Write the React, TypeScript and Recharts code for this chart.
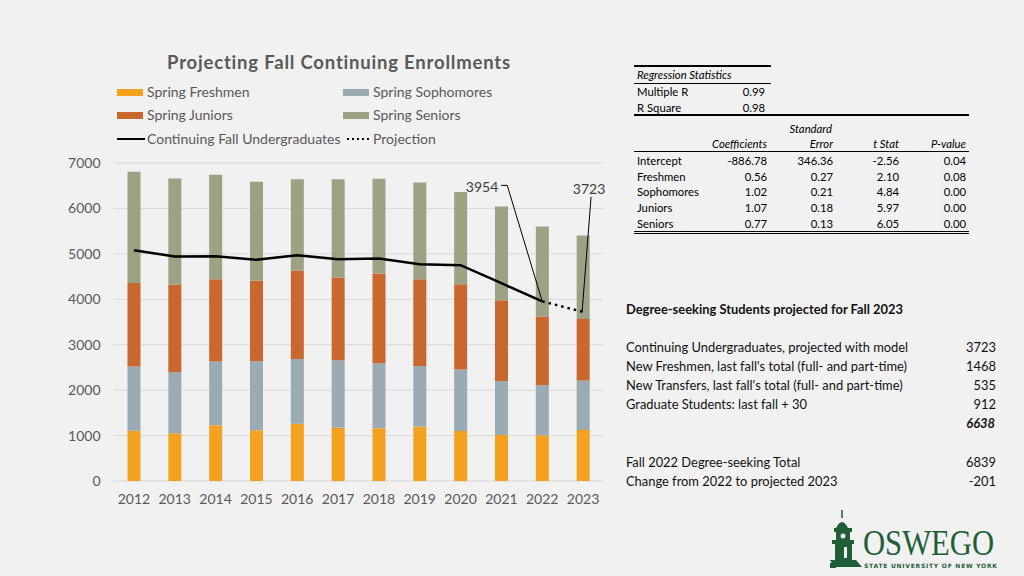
import React from "react"
import { ComposedChart, Bar, Line, XAxis, YAxis, CartesianGrid } from "recharts"

const years = ["2012", "2013", "2014", "2015", "2016", "2017", "2018", "2019", "2020", "2021", "2022", "2023"]
const freshmen = [1108, 1050, 1227, 1116, 1262, 1174, 1160, 1196, 1101, 1013, 1006, 1123]
const sophomores = [1410, 1351, 1401, 1521, 1425, 1484, 1432, 1337, 1351, 1190, 1102, 1086]
const juniors = [1843, 1923, 1815, 1775, 1945, 1820, 1974, 1910, 1880, 1777, 1511, 1359]
const seniors = [2445, 2335, 2297, 2174, 2013, 2167, 2086, 2128, 2027, 2062, 1983, 1835]
const continuing = [5081, 4941, 4949, 4868, 4971, 4883, 4897, 4773, 4751, 4354, 3954, null]
const projection = [null, null, null, null, null, null, null, null, null, null, 3954, 3723]
const yTicks = [0, 1000, 2000, 3000, 4000, 5000, 6000, 7000]

const regStats = [
  ["Multiple R", "0.99"],
  ["R Square", "0.98"],
]
const coefHeaders = ["Coefficients", "Error", "t Stat", "P-value"]
const coefRows = [
  ["Intercept", "-886.78", "346.36", "-2.56", "0.04"],
  ["Freshmen", "0.56", "0.27", "2.10", "0.08"],
  ["Sophomores", "1.02", "0.21", "4.84", "0.00"],
  ["Juniors", "1.07", "0.18", "5.97", "0.00"],
  ["Seniors", "0.77", "0.13", "6.05", "0.00"],
]
const projectedRows = [
  ["Continuing Undergraduates, projected with model", "3723"],
  ["New Freshmen, last fall's total (full- and part-time)", "1468"],
  ["New Transfers, last fall's total (full- and part-time)", "535"],
  ["Graduate Students: last fall + 30", "912"],
]
const projectedTotal = "6638"
const compareRows = [
  ["Fall 2022 Degree-seeking Total", "6839"],
  ["Change from 2022 to projected 2023", "-201"],
]

const COLORS = {
  fresh: "#f4a11f",
  soph: "#9aabb3",
  jun: "#c8682f",
  sen: "#9ea285",
  text: "#595959",
  green: "#1f5e37",
}

const chartFont = "Lato, 'Open Sans', sans-serif"
const tableFont = "Lato, 'Liberation Sans', sans-serif"

const data = years.map((y, i) => ({
  year: y,
  fresh: freshmen[i],
  soph: sophomores[i],
  jun: juniors[i],
  sen: seniors[i],
  cont: continuing[i],
  proj: projection[i],
}))

const lastActual = continuing.reduce((acc: number, v, i) => (v != null ? i : acc), 0)

function Txt({ x, y, children, style, align = "left", w }: any) {
  const base: React.CSSProperties = {
    position: "absolute",
    top: y - 10,
    height: 20,
    lineHeight: "20px",
    whiteSpace: "nowrap",
    ...style,
  }
  if (align === "right") return <div style={{ ...base, left: x - (w || 300), width: w || 300, textAlign: "right" }}>{children}</div>
  if (align === "center") return <div style={{ ...base, left: x - (w || 200) / 2, width: w || 200, textAlign: "center" }}>{children}</div>
  return <div style={{ ...base, left: x }}>{children}</div>
}

function HLine({ x1, x2, y, h = 1 }: any) {
  return <div style={{ position: "absolute", left: x1, top: y - h / 2, width: x2 - x1, height: h, background: "#000" }} />
}

function actualDot(p: any) {
  const { cx, cy, index } = p
  const key = `a-${index}`
  if (cx == null || cy == null || index !== lastActual) return <g key={key} />
  return (
    <g key={key}>
      <text x={cx - 44} y={cy - 115} textAnchor="end" dominantBaseline="central" fontSize={14} fill="#404040" fontFamily={chartFont}>
        {continuing[index]}
      </text>
      <polyline points={`${cx - 41},${cy - 116} ${cx - 35},${cy - 116} ${cx},${cy}`} fill="none" stroke="#000" strokeWidth={1} />
    </g>
  )
}

function projDot(p: any) {
  const { cx, cy, index } = p
  const key = `p-${index}`
  if (cx == null || cy == null || index !== years.length - 1) return <g key={key} />
  return (
    <g key={key}>
      <text x={cx + 6} y={cy - 123} textAnchor="middle" dominantBaseline="central" fontSize={14} fill="#404040" fontFamily={chartFont}>
        {projection[index]}
      </text>
      <line x1={cx + 8} y1={cy - 115} x2={cx - 1} y2={cy} stroke="#000" strokeWidth={1} />
    </g>
  )
}

function Swatch({ x, y, color }: any) {
  return <div style={{ position: "absolute", left: x, top: y - 3.5, width: 26, height: 7, background: color }} />
}

function Legend() {
  const s = { fontSize: 14, color: COLORS.text, fontFamily: chartFont }
  return (
    <>
      <Swatch x={117} y={92} color={COLORS.fresh} />
      <Txt x={147} y={92} style={s}>Spring Freshmen</Txt>
      <Swatch x={343} y={92} color={COLORS.soph} />
      <Txt x={373} y={92} style={s}>Spring Sophomores</Txt>
      <Swatch x={117} y={115} color={COLORS.jun} />
      <Txt x={147} y={115} style={s}>Spring Juniors</Txt>
      <Swatch x={343} y={115} color={COLORS.sen} />
      <Txt x={373} y={115} style={s}>Spring Seniors</Txt>
      <div style={{ position: "absolute", left: 117, top: 138, width: 28, height: 2, background: "#000" }} />
      <Txt x={147} y={139} style={s}>Continuing Fall Undergraduates</Txt>
      <svg style={{ position: "absolute", left: 345, top: 136 }} width={26} height={6}>
        <line x1={2} y1={3} x2={26} y2={3} stroke="#000" strokeWidth={2} strokeDasharray="2 3" />
      </svg>
      <Txt x={373} y={139} style={s}>Projection</Txt>
    </>
  )
}

function RegressionTable() {
  const s = { fontSize: 11.3, color: "#000", fontFamily: tableFont }
  const it = { ...s, fontStyle: "italic" as const }
  const rightCols = [767, 833, 899, 966]
  const rowY = [161, 177, 192, 208, 224]
  return (
    <>
      <HLine x1={634} x2={771} y={66} h={1.5} />
      <Txt x={637} y={75} style={it}>Regression Statistics</Txt>
      <HLine x1={634} x2={771} y={83} h={1} />
      {regStats.map((r, i) => (
        <React.Fragment key={r[0]}>
          <Txt x={637} y={92 + i * 15.5} style={s}>{r[0]}</Txt>
          <Txt x={765} y={92 + i * 15.5} align="right" w={60} style={s}>{r[1]}</Txt>
        </React.Fragment>
      ))}
      <HLine x1={634} x2={969} y={115} h={1.5} />
      <Txt x={832} y={129} align="right" w={80} style={it}>Standard</Txt>
      {coefHeaders.map((h, i) => (
        <Txt key={h} x={rightCols[i]} y={144} align="right" w={80} style={it}>{h}</Txt>
      ))}
      <HLine x1={634} x2={969} y={151} h={1} />
      {coefRows.map((r, ri) => (
        <React.Fragment key={r[0]}>
          <Txt x={637} y={rowY[ri]} style={s}>{r[0]}</Txt>
          {r.slice(1).map((v, ci) => (
            <Txt key={ci} x={rightCols[ci]} y={rowY[ri]} align="right" w={60} style={s}>{v}</Txt>
          ))}
        </React.Fragment>
      ))}
      <HLine x1={634} x2={969} y={231} h={1} />
      <HLine x1={634} x2={969} y={233.5} h={1} />
    </>
  )
}

function ProjectionText() {
  const s = { fontSize: 12.9, color: "#111", fontFamily: tableFont }
  return (
    <>
      <Txt x={626} y={309} style={{ ...s, fontWeight: 700 }}>Degree-seeking Students projected for Fall 2023</Txt>
      {projectedRows.map((r, i) => (
        <React.Fragment key={r[0]}>
          <Txt x={626} y={347 + i * 19} style={s}>{r[0]}</Txt>
          <Txt x={996} y={347 + i * 19} align="right" w={80} style={s}>{r[1]}</Txt>
        </React.Fragment>
      ))}
      <Txt x={995} y={423} align="right" w={80} style={{ ...s, fontWeight: 700, fontStyle: "italic" }}>{projectedTotal}</Txt>
      {compareRows.map((r, i) => (
        <React.Fragment key={r[0]}>
          <Txt x={626} y={462 + i * 19} style={s}>{r[0]}</Txt>
          <Txt x={996} y={462 + i * 19} align="right" w={80} style={s}>{r[1]}</Txt>
        </React.Fragment>
      ))}
    </>
  )
}

function Logo() {
  const g = COLORS.green
  return (
    <svg style={{ position: "absolute", left: 826, top: 508 }} width={198} height={66}>
      {/* tower */}
      <line x1={16} y1={2} x2={16} y2={10} stroke={g} strokeWidth={1.5} />
      <path d="M10 20 Q16 8 22 20 Z" fill={g} />
      <rect x={8} y={20} width={18} height={4} fill={g} />
      <rect x={10} y={24} width={14} height={8} fill={g} />
      <circle cx={17} cy={28} r={2.5} fill="#f1f1f1" />
      <rect x={6} y={32} width={22} height={4} fill={g} />
      <rect x={9} y={36} width={17} height={16} fill={g} />
      <rect x={18} y={39} width={3} height={11} fill="#f1f1f1" />
      <path d="M4 52 L30 52 L36 59 L8 59 Z" fill={g} />
      <rect x={4} y={55} width={6} height={5} fill={g} />
      {/* wordmark */}
      <text x={37} y={47} fontSize={36} fontFamily="'Liberation Serif', serif" fill={g} textLength={131} lengthAdjust="spacingAndGlyphs">
        OSWEGO
      </text>
      <text x={38} y={59.5} fontSize={6} fontWeight={700} fontFamily="'DejaVu Sans', sans-serif" fill={g} textLength={133} lengthAdjust="spacing">
        STATE UNIVERSITY OF NEW YORK
      </text>
    </svg>
  )
}

export default function App() {
  return (
    <div
      style={{
        position: "absolute",
        left: 0,
        top: 0,
        width: 1024,
        height: 576,
        background: "#f1f1f1",
        overflow: "hidden",
        fontFamily: chartFont,
      }}
    >
      <Txt x={339} y={62} align="center" w={440} style={{ fontSize: 18.5, fontWeight: 700, letterSpacing: 0.8, color: COLORS.text }}>
        Projecting Fall Continuing Enrollments
      </Txt>
      <Legend />
      <div style={{ position: "absolute", left: 0, top: 0 }}>
        <ComposedChart
          width={620}
          height={576}
          data={data}
          margin={{ top: 163, right: 16.5, left: 60, bottom: 65 }}
          barCategoryGap={0}
        >
          <CartesianGrid vertical={false} stroke="#d9d9d9" strokeWidth={1} />
          <XAxis
            dataKey="year"
            axisLine={false}
            tickLine={false}
            tickSize={0}
            tickMargin={13}
            height={30}
            interval={0}
            tick={{ fontSize: 14, fill: COLORS.text, fontFamily: chartFont }}
          />
          <YAxis
            domain={[0, 7000]}
            ticks={yTicks}
            axisLine={false}
            tickLine={false}
            tickSize={6}
            tickMargin={7}
            width={53.5}
            tick={{ fontSize: 14, fill: COLORS.text, fontFamily: chartFont }}
          />
          <Bar dataKey="fresh" stackId="a" fill={COLORS.fresh} barSize={13} isAnimationActive={false} />
          <Bar dataKey="soph" stackId="a" fill={COLORS.soph} barSize={13} isAnimationActive={false} />
          <Bar dataKey="jun" stackId="a" fill={COLORS.jun} barSize={13} isAnimationActive={false} />
          <Bar dataKey="sen" stackId="a" fill={COLORS.sen} barSize={13} isAnimationActive={false} />
          <Line
            type="linear"
            dataKey="cont"
            stroke="#000"
            strokeWidth={2.5}
            dot={actualDot}
            activeDot={false}
            connectNulls={false}
            isAnimationActive={false}
          />
          <Line
            type="linear"
            dataKey="proj"
            stroke="#000"
            strokeWidth={2.5}
            strokeDasharray="2.5 4"
            dot={projDot}
            activeDot={false}
            isAnimationActive={false}
          />
        </ComposedChart>
      </div>
      <RegressionTable />
      <ProjectionText />
      <Logo />
    </div>
  )
}
